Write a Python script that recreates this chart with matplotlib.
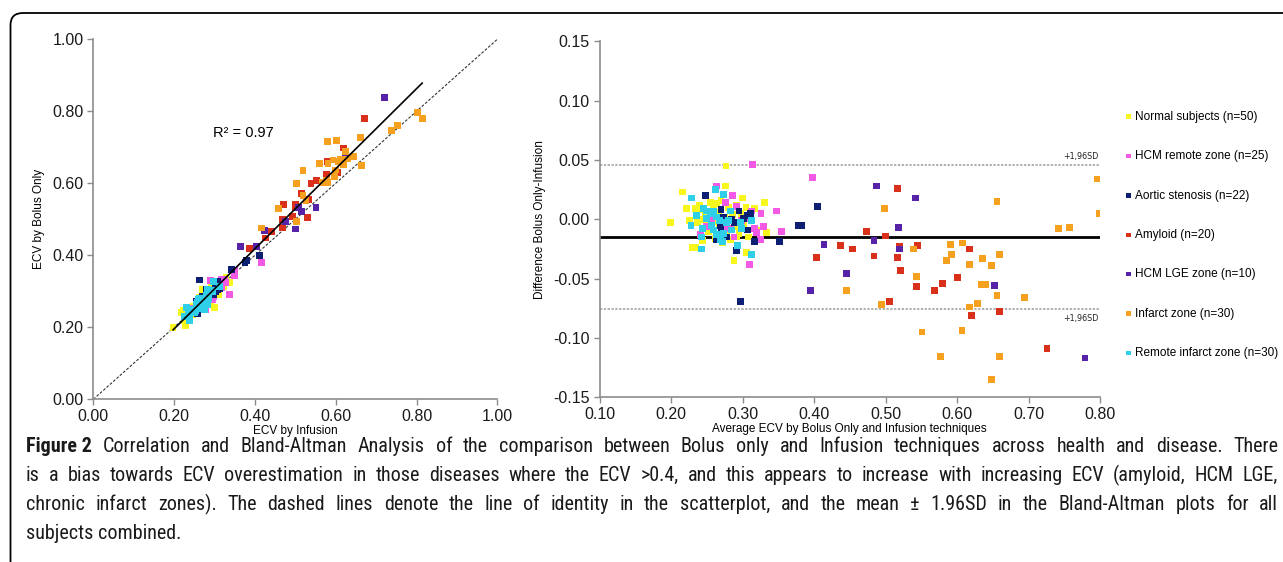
import numpy as np
import matplotlib
matplotlib.use("Agg")
from matplotlib import pyplot as plt
from matplotlib import font_manager
from matplotlib.font_manager import FontProperties
from matplotlib.path import Path
from matplotlib.patches import PathPatch

plt.rcParams['font.family'] = ['Liberation Sans', 'DejaVu Sans']

# groups, in legend order
groups = ["Normal subjects (n=50)", "HCM remote zone (n=25)", "Aortic stenosis (n=22)",
          "Amyloid (n=20)", "HCM LGE zone (n=10)", "Infarct zone (n=30)",
          "Remote infarct zone (n=30)"]
colors = ['#F7F71E', '#F25AE6', '#0D1F73', '#D9301C', '#5522A8', '#F5A01E', '#2FCFEA']

# Bland-Altman values (average, plotted difference)
normal_avg = [0.199, 0.216, 0.234, 0.238, 0.230, 0.235, 0.277, 0.276, 0.260, 0.264,
              0.288, 0.300, 0.306, 0.331, 0.334, 0.317, 0.320, 0.292, 0.237, 0.250,
              0.222, 0.226, 0.240, 0.244, 0.248, 0.252, 0.255, 0.258, 0.262, 0.266,
              0.268, 0.270, 0.272, 0.275, 0.278, 0.280, 0.283, 0.286, 0.289, 0.292,
              0.295, 0.298, 0.302, 0.305, 0.308, 0.310, 0.262, 0.256, 0.284, 0.246]
normal_diff = [-0.003, 0.023, 0.009, 0.008, -0.024, -0.024, 0.045, 0.028, 0.012, 0.013,
               -0.035, 0.018, -0.028, 0.014, -0.011, 0.009, -0.009, -0.015, -0.003, -0.001,
               0.009, -0.001, 0.012, -0.018, 0.004, -0.010, 0.014, -0.002, -0.016, 0.006,
               -0.004, 0.016, -0.020, 0.002, -0.010, 0.010, -0.017, 0.004, -0.006, 0.012,
               -0.012, 0.005, -0.004, 0.010, -0.015, 0.001, 0.003, -0.006, -0.001, 0.000]

hcm_remote_avg = [0.264, 0.286, 0.314, 0.347, 0.354, 0.326, 0.317, 0.320, 0.310, 0.398,
                  0.278, 0.283, 0.288, 0.241, 0.299, 0.306, 0.313, 0.276, 0.271, 0.257,
                  0.250, 0.292, 0.264, 0.329, 0.325]
hcm_remote_diff = [0.028, 0.020, 0.046, 0.007, -0.010, 0.005, -0.008, -0.011, -0.038, 0.035,
                   -0.006, -0.008, -0.015, -0.013, -0.001, 0.001, 0.007, 0.014, -0.003, -0.001,
                   -0.006, 0.011, 0.002, -0.006, -0.017]

aortic_avg = [0.248, 0.270, 0.270, 0.295, 0.301, 0.307, 0.311, 0.307, 0.317, 0.292,
              0.352, 0.297, 0.264, 0.285, 0.378, 0.382, 0.405, 0.269, 0.273, 0.259,
              0.289, 0.278]
aortic_diff = [0.020, 0.008, -0.007, 0.007, 0.001, 0.003, 0.005, -0.009, -0.019, -0.026,
               -0.019, -0.069, -0.017, 0.000, -0.005, -0.005, 0.011, -0.005, 0.002, -0.009,
               -0.003, -0.015]

amyloid_avg = [0.403, 0.517, 0.473, 0.500, 0.437, 0.454, 0.520, 0.545, 0.617, 0.484,
               0.517, 0.521, 0.601, 0.543, 0.580, 0.569, 0.506, 0.620, 0.659, 0.726]
amyloid_diff = [-0.032, 0.026, -0.010, -0.014, -0.022, -0.025, -0.023, -0.022, -0.025, -0.031,
                -0.032, -0.043, -0.049, -0.057, -0.054, -0.060, -0.069, -0.081, -0.078, -0.109]

hcm_lge_avg = [0.487, 0.542, 0.518, 0.484, 0.414, 0.520, 0.446, 0.653, 0.395, 0.779]
hcm_lge_diff = [0.028, 0.018, -0.007, -0.018, -0.021, -0.025, -0.046, -0.056, -0.060, -0.117]

infarct_avg = [0.499, 0.656, 0.539, 0.591, 0.608, 0.592, 0.585, 0.618, 0.636, 0.648,
               0.660, 0.543, 0.634, 0.640, 0.446, 0.656, 0.694, 0.494, 0.629, 0.618,
               0.551, 0.607, 0.577, 0.660, 0.648, 0.742, 0.757, 0.797, 0.799]
infarct_diff = [0.009, 0.015, -0.025, -0.021, -0.020, -0.030, -0.035, -0.038, -0.033, -0.039,
                -0.030, -0.048, -0.055, -0.055, -0.060, -0.064, -0.066, -0.072, -0.071, -0.074,
                -0.095, -0.094, -0.116, -0.116, -0.135, -0.008, -0.007, 0.034, 0.005]

remote_avg = [0.229, 0.228, 0.236, 0.244, 0.243, 0.245, 0.250, 0.255, 0.262, 0.273,
              0.259, 0.269, 0.272, 0.264, 0.278, 0.283, 0.297, 0.299, 0.293, 0.313,
              0.313, 0.264, 0.257, 0.273, 0.280, 0.268, 0.250, 0.285, 0.259, 0.243]
remote_diff = [0.018, -0.005, 0.003, -0.008, -0.025, 0.009, 0.001, 0.005, 0.025, 0.021,
               0.007, -0.017, -0.019, -0.013, -0.003, 0.007, -0.003, -0.008, -0.022, -0.001,
               -0.030, 0.002, -0.005, -0.012, -0.001, -0.001, 0.007, -0.009, -0.009, -0.015]

avgs = [normal_avg, hcm_remote_avg, aortic_avg, amyloid_avg, hcm_lge_avg, infarct_avg, remote_avg]
diffs = [normal_diff, hcm_remote_diff, aortic_diff, amyloid_diff, hcm_lge_diff, infarct_diff, remote_diff]

bias = -0.015
loa_196 = 0.0605

caption_lines = [
    "Correlation and Bland-Altman Analysis of the comparison between Bolus only and Infusion techniques across health and disease. There",
    "is a bias towards ECV overestimation in those diseases where the ECV >0.4, and this appears to increase with increasing ECV (amyloid, HCM LGE,",
    "chronic infarct zones). The dashed lines denote the line of identity in the scatterplot, and the mean \u00b1 1.96SD in the Bland-Altman plots for all",
    "subjects combined.",
]

W, H = 1283, 562
fig = plt.figure(figsize=(W / 100, H / 100), dpi=100)


def fx(px):
    return px / W


def fy(py):
    return 1 - py / H


ax1 = fig.add_axes([fx(93.3), fy(399.3), 404 / W, 360 / H])
ax2 = fig.add_axes([fx(599.5), fy(397.2), 500.5 / W, 355.8 / H])

spine_col = '#8c8c8c'
for ax in (ax1, ax2):
    for s in ('top', 'right'):
        ax.spines[s].set_visible(False)
    for s in ('left', 'bottom'):
        ax.spines[s].set_color(spine_col)
        ax.spines[s].set_linewidth(1.2)
    ax.tick_params(direction='out', length=4, width=1, color=spine_col,
                   labelsize=11.5, labelcolor='#1a1a1a', pad=3)

# left: bolus vs infusion
all_inf, all_bol = [], []
for a, d, c in zip(avgs, diffs, colors):
    a = np.array(a)
    d = np.array(d)
    inf = a + d / 2
    bol = a - d / 2
    all_inf.append(inf)
    all_bol.append(bol)
    ax1.scatter(inf, bol, marker='s', s=24, color=c, edgecolors='none', zorder=3)
all_inf = np.concatenate(all_inf)
all_bol = np.concatenate(all_bol)

ax1.plot([0, 1], [0, 1], color='#333333', lw=0.8, ls=(0, (2.5, 1.5)), zorder=2)
slope, icpt = np.polyfit(all_inf, all_bol, 1)
xs = np.array([all_inf.min(), all_inf.max()])
ax1.plot(xs, slope * xs + icpt, color='black', lw=1.2, zorder=4)
ax1.text(0.297, 0.74, "R\u00b2 = 0.97", fontsize=10.5, va='center', ha='left')

ax1.set_xlim(0, 1)
ax1.set_ylim(0, 1)
ticks = np.arange(0, 1.01, 0.2)
ax1.set_xticks(ticks)
ax1.set_yticks(ticks)
ax1.set_xticklabels(["%.2f" % t for t in ticks])
ax1.set_yticklabels(["%.2f" % t for t in ticks])
ax1.set_xlabel("ECV by Infusion", fontsize=8.5, labelpad=0.5)
ax1.set_ylabel("ECV by Bolus Only", fontsize=8.5, labelpad=5)

# right: Bland-Altman
for a, d, c, g in zip(avgs, diffs, colors, groups):
    ax2.scatter(a, d, marker='s', s=24, color=c, edgecolors='none', zorder=3, label=g)

ax2.axhline(bias, color='black', lw=2, zorder=2)
ax2.axhline(bias + loa_196, color='#9a9a9a', lw=1.1, ls=(0, (1.5, 1)), zorder=2)
ax2.axhline(bias - loa_196, color='#9a9a9a', lw=1.1, ls=(0, (1.5, 1)), zorder=2)
ax2.text(0.798, bias + loa_196 + 0.004, "+1,96SD", fontsize=5.8, family='DejaVu Sans',
         ha='right', va='bottom', color='#222222')
ax2.text(0.798, bias - loa_196 - 0.004, "+1,96SD", fontsize=5.8, family='DejaVu Sans',
         ha='right', va='top', color='#222222')

ax2.set_xlim(0.10, 0.80)
ax2.set_ylim(-0.15, 0.15)
xt = np.arange(0.10, 0.801, 0.10)
yt = np.arange(-0.15, 0.151, 0.05)
ax2.set_xticks(xt)
ax2.set_yticks(yt)
ax2.set_xticklabels(["%.2f" % t for t in xt])
ax2.set_yticklabels(["%.2f" % t if abs(t) > 1e-9 else "0.00" for t in yt])
ax2.set_xlabel("Average ECV by Bolus Only and Infusion techniques", fontsize=8.5, labelpad=0.5)
ax2.set_ylabel("Difference Bolus Only-Infusion", fontsize=8.5, labelpad=5)

ax2.legend(loc='upper left', bbox_to_anchor=(1.051, 0.805), frameon=False, fontsize=8.5,
           handlelength=0.5, handletextpad=0.3, labelspacing=2.32, borderaxespad=0,
           borderpad=0, markerscale=0.65, scatterpoints=1)

# frame with rounded top-left corner
verts = [(fx(10.5), fy(562)), (fx(10.5), fy(25)), (fx(10.5), fy(13)), (fx(23), fy(13)),
         (fx(1283), fy(13))]
codes = [Path.MOVETO, Path.LINETO, Path.CURVE3, Path.CURVE3, Path.LINETO]
fig.add_artist(PathPatch(Path(verts, codes), transform=fig.transFigure, fill=False,
                         lw=1.3, edgecolor='black'))

# caption font: a narrow face if one is installed
cap_reg = None
cap_bold = None
for key in ('Liberation Sans Narrow', 'Roboto Condensed', 'Open Sans Condensed',
            'Noto Sans Condensed', 'DejaVu Sans Condensed'):
    for f in font_manager.fontManager.ttflist:
        label = f.name + ' ' + f.fname
        if key.replace(' ', '') in label.replace(' ', '') or (key in f.name + ' ' + f.stretch.title()):
            if f.style == 'normal':
                if f.weight in (400, 'normal', 'regular') and cap_reg is None:
                    cap_reg = f.fname
                if f.weight in (700, 'bold') and cap_bold is None:
                    cap_bold = f.fname
    if cap_reg:
        break
if cap_reg:
    fp_reg = FontProperties(fname=cap_reg)
    fp_bold = FontProperties(fname=cap_bold) if cap_bold else FontProperties(fname=cap_reg, weight='bold')
else:
    fp_reg = FontProperties(family='Liberation Sans')
    fp_bold = FontProperties(family='Liberation Sans', weight='bold')

renderer = fig.canvas.get_renderer()
x_left, x_right = 26, 1278
line_base = [452, 481, 510, 539]


def word_width(s, fp, size):
    t = fig.text(0, 0, s, fontproperties=fp, fontsize=size)
    w = t.get_window_extent(renderer).width
    t.remove()
    return w


# size that lets the widest full line fit with plain spaces
cap_size = 13.0
widest = max(word_width(("Figure 2 " if i == 0 else "") + l, fp_reg, cap_size)
             for i, l in enumerate(caption_lines[:3]))
cap_size = min(14.5, cap_size * (x_right - x_left - 12) / widest)
space = word_width("a a", fp_reg, cap_size) - 2 * word_width("a", fp_reg, cap_size)

for i, line in enumerate(caption_lines):
    items = []
    if i == 0:
        items.append(("Figure 2", fp_bold))
    items += [(w, fp_reg) for w in line.split(' ')]
    texts = []
    for w, fp in items:
        t = fig.text(0, fy(line_base[i]), w, fontproperties=fp, fontsize=cap_size,
                     va='baseline', ha='left', color='#1a1a1a')
        texts.append(t)
    widths = [t.get_window_extent(renderer).width for t in texts]
    if i < len(caption_lines) - 1:
        gap = (x_right - x_left - sum(widths)) / (len(texts) - 1)
    else:
        gap = space
    x = x_left
    for t, w in zip(texts, widths):
        t.set_x(fx(x))
        x += w + gap

fig.savefig("out.png", dpi=100)
